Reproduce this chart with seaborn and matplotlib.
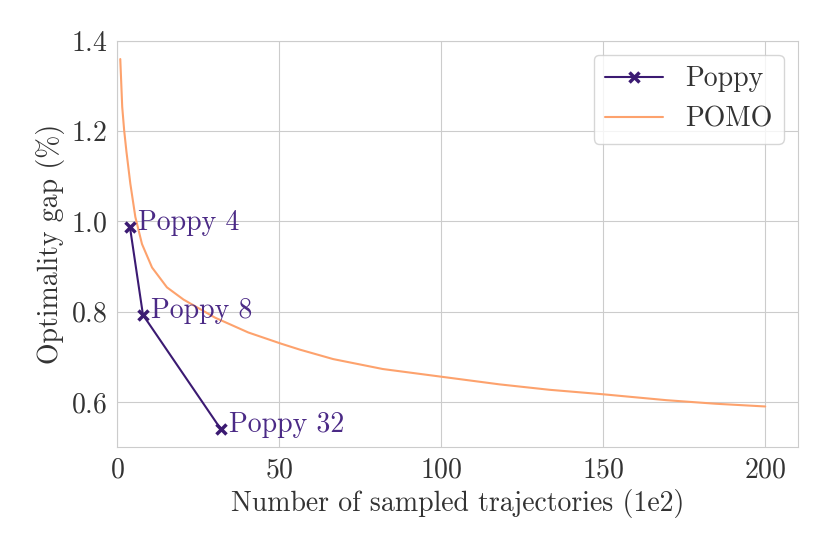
import seaborn as sns
import matplotlib.pyplot as plt
import pandas as pd

# Poppy results (number of trajectories in 1e2, gap in %)
poppy_x = [4, 8, 32]
poppy_gap = [0.987, 0.793, 0.540]
poppy_labels = ["Poppy 4", "Poppy 8", "Poppy 32"]

# POMO sampling curve
pomo_x = [1, 1.6, 2.2, 2.9, 4.1, 5.65, 7.7, 10.8, 15.4, 20.5, 30.2, 40.5, 50.7,
          56.4, 66.7, 82, 100, 118, 133.4, 150, 169.4, 184.8, 200]
pomo_gap = [1.36, 1.254, 1.202, 1.155, 1.084, 1.010, 0.950, 0.898, 0.854, 0.827,
            0.787, 0.754, 0.729, 0.716, 0.695, 0.673, 0.656, 0.639, 0.627,
            0.617, 0.604, 0.596, 0.590]

poppy_color = "#3b1a72"
pomo_color = "#fda26d"

sns.set_style("whitegrid")
plt.rcParams['font.family'] = ['cmr10', 'DejaVu Serif']
plt.rcParams['mathtext.fontset'] = 'cm'
plt.rcParams['axes.formatter.use_mathtext'] = True
plt.rcParams['axes.unicode_minus'] = False

fig, ax = plt.subplots(figsize=(8.3, 5.54), dpi=100)
fig.subplots_adjust(left=0.141, right=0.961, top=0.926, bottom=0.193)

poppy_df = pd.DataFrame({"x": poppy_x, "gap": poppy_gap})
pomo_df = pd.DataFrame({"x": pomo_x, "gap": pomo_gap})

sns.lineplot(data=poppy_df, x="x", y="gap", ax=ax, color=poppy_color, marker="x",
             markersize=7, markeredgewidth=2.5, markeredgecolor=poppy_color,
             linewidth=1.5, label="Poppy", zorder=3)
sns.lineplot(data=pomo_df, x="x", y="gap", ax=ax, color=pomo_color,
             linewidth=1.5, label="POMO", zorder=2)

for x, y, lab in zip(poppy_x, poppy_gap, poppy_labels):
    ax.annotate(lab, (x, y), xytext=(6, 3), textcoords="offset points",
                va="center", ha="left", fontsize=20, color="#4b2a86")

ax.set_xlim(0, 210)
ax.set_ylim(0.5, 1.4)
ax.set_xticks([0, 50, 100, 150, 200])
ax.set_yticks([0.6, 0.8, 1.0, 1.2, 1.4])
ax.tick_params(labelsize=20, colors="#333333")
ax.set_xlabel("Number of sampled trajectories (1e2)", fontsize=20, color="#333333")
ax.set_ylabel("Optimality gap (%)", fontsize=20, color="#333333")
for s in ax.spines.values():
    s.set_color("#cccccc")

leg = ax.legend(loc="upper right", fontsize=20, handlelength=2.1)
for t in leg.get_texts():
    t.set_color("#333333")

fig.savefig("out.png", dpi=100)
